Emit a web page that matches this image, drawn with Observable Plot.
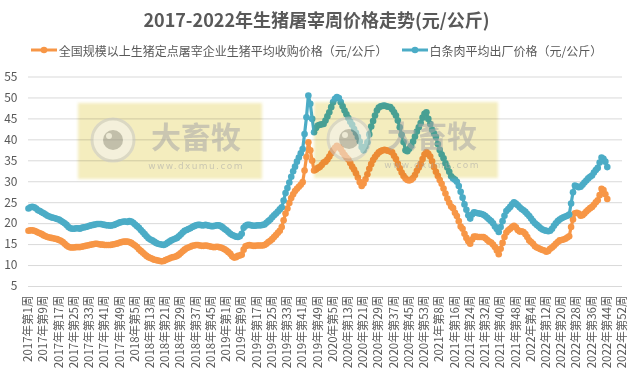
<!DOCTYPE html>
<html>
<head>
<meta charset="utf-8">
<script src="https://cdn.jsdelivr.net/npm/d3@7"></script>
<script src="https://cdn.jsdelivr.net/npm/@observablehq/plot@0.6"></script>
<style>
  html, body { margin: 0; padding: 0; background: #fff; }
  #wrap { position: relative; width: 633px; height: 374px; overflow: hidden;
          font-family: "Noto Sans CJK SC", "Noto Sans", sans-serif; color: #595959; }
  #title { height: 38px; line-height: 38px; text-align: center; font-size: 18px; font-weight: bold; color: #595959; }
  #legend { height: 24px; display: flex; justify-content: center; align-items: center; font-size: 12px; color: #595959; gap: 14px; }
  .item { display: flex; align-items: center; white-space: nowrap; }
  .item svg { margin-right: 2px; }
  .wm { position: absolute; width: 184px; height: 76px; background: #F4EDBE; mix-blend-mode: multiply;
        filter: blur(1.5px); }
  .wmlogo { position: absolute; width: 184px; height: 76px; opacity: 0.55; }
</style>
</head>
<body>
<div id="wrap">
  <div id="title">2017-2022年生猪屠宰周价格走势(元/公斤)</div>
  <div id="legend"></div>
  <div id="chart"></div>
</div>
<script>
// ---- series names & colours ----
const seriesNames = ["全国规模以上生猪定点屠宰企业生猪平均收购价格（元/公斤）", "白条肉平均出厂价格（元/公斤）"];
const seriesColors = ["#F79646", "#4BACC6"];

// ---- x tick labels (every 8th week) ----
const tickLabels = ["2017年第1周","2017年第9周","2017年第17周","2017年第25周","2017年第33周","2017年第41周","2017年第49周",
"2018年第5周","2018年第13周","2018年第21周","2018年第29周","2018年第37周","2018年第45周",
"2019年第1周","2019年第9周","2019年第17周","2019年第25周","2019年第33周","2019年第41周","2019年第49周",
"2020年第5周","2020年第13周","2020年第21周","2020年第29周","2020年第37周","2020年第45周","2020年第53周",
"2021年第8周","2021年第16周","2021年第24周","2021年第32周","2021年第40周","2021年第48周",
"2022年第4周","2022年第12周","2022年第20周","2022年第28周","2022年第36周","2022年第44周","2022年第52周"];
const totalWeeks = 313; // 2017w1 .. 2022w52
const yTicks = [5,10,15,20,25,30,35,40,45,50,55];

// ---- live hog purchase price (orange) ----
const hog2017 = [18.3,18.4,18.4,18.3,18.1,17.9,17.7,17.5,17.2,17.0,
16.8,16.7,16.6,16.5,16.4,16.3,16.1,15.9,15.6,15.2,
14.8,14.5,14.3,14.3,14.3,14.4,14.4,14.4,14.5,14.6,
14.7,14.8,14.9,15.0,15.1,15.2,15.2,15.1,15.0,15.0,
14.9,14.9,14.9,14.9,15.0,15.1,15.2,15.3,15.5,15.6,
15.7,15.7];
const hog2018 = [15.7,15.6,15.4,15.1,14.8,14.4,13.9,13.5,13.1,12.7,
12.3,12.0,11.8,11.6,11.4,11.3,11.2,11.1,11.0,11.1,
11.3,11.5,11.7,11.9,12.0,12.1,12.3,12.6,13.0,13.4,
13.8,14.1,14.3,14.5,14.7,14.8,14.9,14.9,14.8,14.7,
14.7,14.8,14.7,14.6,14.5,14.4,14.4,14.5,14.4,14.3,
14.1,13.9];
const hog2019 = [13.6,13.2,12.8,12.2,11.9,12.0,12.3,12.4,12.6,13.8,
14.6,14.8,14.9,14.8,14.7,14.7,14.8,14.8,14.8,14.8,
14.9,15.2,15.6,15.9,16.3,16.8,17.3,17.8,18.3,19.2,
20.8,22.4,23.6,24.9,26.1,27.0,27.8,28.3,28.8,29.3,
29.9,32.7,35.9,39.4,37.5,35.0,32.7,32.9,33.3,33.5,
34.0,34.6];
const hog2020 = [34.8,35.3,36.0,36.8,37.5,38.1,38.6,38.3,37.8,37.0,
36.4,35.8,35.3,34.5,33.6,32.9,32.0,31.0,29.9,29.0,
29.6,30.6,31.8,33.1,34.2,35.2,35.9,36.5,37.0,37.3,
37.5,37.6,37.5,37.4,37.2,37.0,36.2,35.4,34.3,
33.2,32.2,31.4,30.8,30.4,30.3,30.5,30.9,31.6,32.6,
33.4,34.3,35.4];
const hog2021 = [36.5,37.1,36.7,36.0,34.9,33.5,32.4,31.4,30.4,29.5,
28.4,27.2,26.0,25.0,24.1,23.7,22.6,21.8,20.6,19.3,
18.8,17.6,16.6,15.8,15.2,16.2,16.9,16.9,16.8,16.8,
16.8,16.8,16.5,16.1,15.7,15.5,15.0,14.4,13.6,12.7,
14.0,15.4,16.8,17.9,18.4,18.8,19.2,19.5,19.1,18.5,
18.1,18.2];
const hog2022 = [18.0,17.5,16.8,16.0,15.6,15.2,14.6,14.3,14.1,13.9,
13.7,13.6,13.3,13.5,14.0,14.3,14.7,15.2,15.6,16.0,
16.1,16.2,16.4,16.7,17.0,19.2,21.0,22.5,22.6,22.4,
21.9,22.0,22.4,22.9,23.3,23.7,24.0,24.5,25.1,
25.6,26.8,28.3,28.0,27.0,25.9];

// ---- pork carcass ex-factory price (teal) ----
const pork2017 = [23.6,23.9,24.0,23.9,23.6,23.2,23.0,22.7,22.5,22.2,
21.9,21.7,21.5,21.4,21.3,21.1,21.0,20.7,20.4,20.1,
19.7,19.2,18.9,18.8,18.8,18.9,18.9,18.8,19.0,19.1,
19.2,19.3,19.5,19.6,19.7,19.8,19.9,19.9,19.9,19.8,
19.7,19.6,19.6,19.5,19.6,19.7,19.9,20.1,20.3,20.4,
20.5,20.5];
const pork2018 = [20.4,20.6,20.5,20.2,19.8,19.4,19.0,18.5,18.0,17.5,
17.0,16.5,16.2,16.0,15.7,15.4,15.2,15.1,15.0,14.9,
15.1,15.4,15.7,16.0,16.2,16.4,16.6,17.0,17.4,17.9,
18.3,18.5,18.7,18.9,19.2,19.4,19.6,19.7,19.7,19.6,
19.6,19.7,19.6,19.5,19.4,19.4,19.5,19.6,19.6,19.4,
19.1,18.7];
const pork2019 = [18.4,18.0,17.6,17.3,17.1,16.9,16.8,17.0,17.6,19.0,
19.5,19.7,19.7,19.6,19.5,19.5,19.6,19.6,19.6,19.7,
19.8,20.2,20.6,21.0,21.5,22.0,22.4,22.9,23.4,23.9,
25.5,27.3,28.5,29.8,31.2,32.5,33.6,34.8,35.8,36.8,
37.8,41.4,45.4,50.6,48.6,45.0,41.8,42.8,43.4,43.6,
43.7,43.8];
const pork2020 = [44.6,45.6,46.6,47.8,49.0,49.8,50.2,50.0,49.0,48.0,
47.0,46.1,45.2,44.3,43.6,42.6,41.7,40.7,39.6,38.3,
37.5,38.4,39.4,41.3,43.2,44.5,45.8,47.0,47.7,48.0,
48.1,48.2,48.0,47.9,47.8,47.3,46.6,45.8,44.6,
43.0,41.2,39.5,37.5,37.3,37.9,38.6,39.6,40.8,42.0,
43.0,44.0,45.3];
const pork2021 = [46.2,46.6,45.0,43.8,42.4,41.5,40.7,39.0,37.6,36.5,
35.6,34.4,33.4,32.4,31.3,30.8,30.5,30.0,29.0,27.6,
26.2,24.6,23.3,22.0,21.2,22.2,22.7,22.6,22.5,22.4,
22.3,22.1,21.8,21.4,21.0,20.6,20.1,19.3,18.7,18.0,
19.2,20.6,21.9,23.0,23.5,24.0,24.6,25.1,24.8,24.4,
23.9,23.5];
const pork2022 = [23.2,22.8,22.3,21.8,21.2,20.6,20.1,19.7,19.3,18.9,
18.6,18.4,18.3,18.2,18.3,18.8,19.5,20.1,20.6,21.0,
21.3,21.5,21.7,21.9,22.2,24.8,27.5,29.1,28.9,28.7,
28.8,29.3,29.8,30.3,30.8,31.2,31.5,32.2,32.8,
33.3,34.6,35.8,35.5,34.8,33.5];

const hogPrice = [...hog2017, ...hog2018, ...hog2019, ...hog2020, ...hog2021, ...hog2022];
const porkPrice = [...pork2017, ...pork2018, ...pork2019, ...pork2020, ...pork2021, ...pork2022];

// ---- legend ----
const legend = document.getElementById("legend");
seriesNames.forEach((name, k) => {
  const it = document.createElement("div");
  it.className = "item";
  it.innerHTML = `<svg width="26" height="10"><line x1="0" y1="5" x2="26" y2="5" stroke="${seriesColors[k]}" stroke-width="3"/><circle cx="13" cy="5" r="3.3" fill="${seriesColors[k]}"/></svg><span>${name}</span>`;
  legend.appendChild(it);
});

// ---- chart ----
const tickIdx = d3.range(0, totalWeeks, 8);
const chart = Plot.plot({
  width: 633,
  height: 312,
  marginTop: 14.5,
  marginBottom: 88,
  marginLeft: 28,
  marginRight: 11,
  style: { fontFamily: '"Noto Sans CJK SC", "Noto Sans", sans-serif', color: "#595959", background: "transparent", overflow: "visible" },
  x: { type: "linear", domain: [0, totalWeeks - 1] },
  y: { domain: [5, 55] },
  marks: [
    Plot.gridY(yTicks, { stroke: "#D9D9D9", strokeOpacity: 1, strokeWidth: 1 }),
    Plot.axisY(yTicks, { tickSize: 0, tickPadding: 11, fontSize: 12, fill: "#595959", label: null }),
    Plot.axisX(tickIdx, { tickSize: 0, tickPadding: 9, tickRotate: -90, fontSize: 11.5, fill: "#595959", label: null,
      tickFormat: d => tickLabels[d / 8] }),
    Plot.line(hogPrice, { x: (d, i) => i, y: d => d, stroke: seriesColors[0], strokeWidth: 3.2 }),
    Plot.dot(hogPrice, { x: (d, i) => i, y: d => d, r: 3.3, fill: seriesColors[0], stroke: null }),
    Plot.line(porkPrice, { x: (d, i) => i, y: d => d, stroke: seriesColors[1], strokeWidth: 3.2 }),
    Plot.dot(porkPrice, { x: (d, i) => i, y: d => d, r: 3.3, fill: seriesColors[1], stroke: null })
  ]
});
document.getElementById("chart").appendChild(chart);

// ---- source watermark (decorative overlay) ----
const wrap = document.getElementById("wrap");
[[78, 103], [314, 102]].forEach(([l, t]) => {
  const b = document.createElement("div");
  b.className = "wm"; b.style.left = l + "px"; b.style.top = t + "px";
  wrap.appendChild(b);
  const g = document.createElement("div");
  g.className = "wmlogo"; g.style.left = l + "px"; g.style.top = t + "px";
  g.innerHTML = `<svg width="184" height="76">
    <circle cx="35" cy="37" r="21" fill="#f4f4f4" stroke="#c8c8c8" stroke-width="3"/>
    <circle cx="35" cy="37" r="10" fill="#9a9a9a"/>
    <circle cx="31" cy="33" r="3" fill="#e8e8e8"/>
    <text x="118" y="45" text-anchor="middle" font-size="30" font-weight="bold" fill="#a8a8a8" font-family="Noto Sans CJK SC">大畜牧</text>
    <text x="118" y="66" text-anchor="middle" font-size="9" letter-spacing="1.4" fill="#a8a8a8" font-family="DejaVu Sans">www.dxumu.com</text>
  </svg>`;
  wrap.appendChild(g);
});
</script>
</body>
</html>
